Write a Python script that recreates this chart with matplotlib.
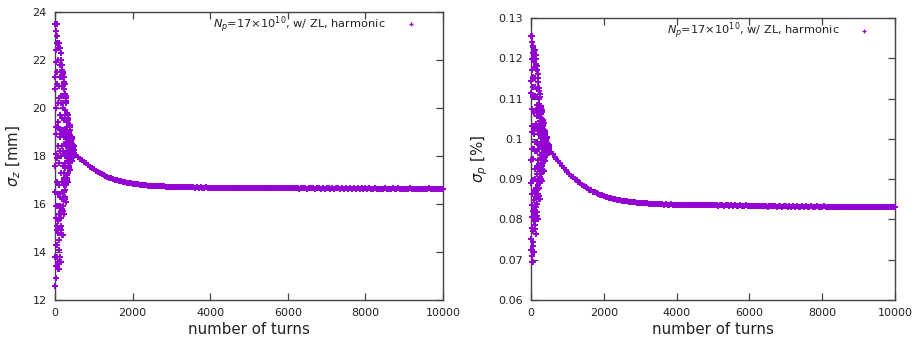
import numpy as np
import matplotlib
matplotlib.use("Agg")
import matplotlib.pyplot as plt

plt.rcParams['font.family'] = ['DejaVu Sans']
plt.rcParams['mathtext.fontset'] = 'dejavusans'

# ---------------- data ----------------
# early turns (strong oscillation), one value every 2 turns: 0..498
osc_turns = np.arange(0, 500, 2)
sigz_osc = [
    23.5, 12.6, 21.3, 16.5, 17.6, 20.8, 13.8, 23.5, 12.9, 21.9, 15.9, 18.1, 20.0, 14.3, 23.2, 13.4, 22.4, 15.4, 18.9, 19.2, 14.9, 23.0, 13.4, 22.7, 15.1,
    23.5, 13.8, 21.5, 16.9, 17.9, 21.0, 14.3, 23.5, 13.6, 22.0, 16.4, 18.4, 20.2, 14.8, 22.7, 13.3, 22.5, 15.9, 19.2, 19.4, 15.3, 22.7, 13.3, 22.7, 15.6,
    22.7, 14.1, 20.9, 16.8, 17.7, 20.4, 14.5, 22.7, 13.8, 21.3, 16.3, 18.2, 19.7, 15.0, 22.5, 13.6, 21.8, 15.9, 18.8, 19.1, 15.4, 22.3, 13.6, 22.0, 15.7,
    22.0, 15.1, 20.5, 17.3, 18.0, 20.2, 15.4, 22.0, 14.9, 20.9, 16.9, 18.4, 19.6, 15.8, 21.8, 14.7, 21.3, 16.5, 18.9, 19.1, 16.2, 21.6, 14.7, 21.5, 16.3,
    21.4, 15.9, 20.2, 17.6, 18.2, 20.0, 16.2, 21.4, 15.7, 20.5, 17.3, 18.5, 19.5, 16.5, 21.3, 15.6, 20.8, 17.1, 18.9, 19.1, 16.8, 21.1, 15.6, 21.0, 16.9,
    20.6, 16.3, 19.7, 17.7, 18.1, 19.5, 16.6, 20.6, 16.2, 19.9, 17.5, 18.4, 19.1, 16.8, 20.5, 16.1, 20.2, 17.2, 18.7, 18.8, 17.0, 20.4, 16.1, 20.3, 17.1,
    19.8, 17.0, 19.2, 17.9, 18.2, 19.1, 17.2, 19.8, 17.0, 19.4, 17.8, 18.4, 18.9, 17.3, 19.7, 16.9, 19.5, 17.6, 18.6, 18.6, 17.5, 19.7, 16.9, 19.6, 17.6,
    19.3, 17.5, 18.9, 18.1, 18.3, 18.8, 17.6, 19.3, 17.5, 19.0, 18.0, 18.4, 18.7, 17.7, 19.3, 17.4, 19.1, 17.9, 18.5, 18.5, 17.8, 19.2, 17.4, 19.2, 17.8,
    18.8, 17.85, 18.6, 18.15, 18.25, 18.55, 17.9, 18.8, 17.8, 18.65, 18.1, 18.3, 18.5, 17.95, 18.8, 17.8, 18.7, 18.05, 18.4, 18.4, 18.0, 18.75, 17.8, 18.7, 18.0,
    18.44, 18.02, 18.35, 18.15, 18.2, 18.33, 18.04, 18.44, 18.01, 18.37, 18.13, 18.22, 18.3, 18.07, 18.43, 18.0, 18.4, 18.11, 18.25, 18.26, 18.09, 18.42, 18.0, 18.41, 18.1,
]
sigp_osc = [
    .1255, .0723, .1143, .0891, .0947, .1115, .0751, .1255, .0709, .1171, .0863, .0975, .1073, .0779, .1241, .0695, .1199, .0835, .1017, .1031, .0807, .1227, .0695, .1213, .0821,
    .1230, .0745, .1128, .0898, .0949, .1103, .0771, .1230, .0733, .1154, .0873, .0975, .1064, .0796, .1217, .0720, .1179, .0847, .1013, .1026, .0822, .1205, .0720, .1192, .0835,
    .1220, .0787, .1129, .0924, .0969, .1106, .0810, .1220, .0775, .1152, .0901, .0992, .1072, .0832, .1209, .0764, .1174, .0878, .1026, .1038, .0855, .1197, .0764, .1186, .0867,
    .1180, .0819, .1104, .0933, .0971, .1085, .0838, .1180, .0809, .1123, .0914, .0990, .1057, .0857, .1171, .0800, .1142, .0895, .1019, .1028, .0876, .1161, .0800, .1152, .0885,
    .1126, .0864, .1071, .0947, .0974, .1057, .0878, .1126, .0857, .1085, .0933, .0988, .1036, .0891, .1119, .0850, .1098, .0919, .1009, .1016, .0905, .1112, .0850, .1105, .0912,
    .1081, .0904, .1044, .0960, .0979, .1035, .0914, .1081, .0900, .1053, .0951, .0988, .1021, .0923, .1076, .0895, .1062, .0941, .1002, .1007, .0932, .1072, .0895, .1067, .0937,
    .1050, .0926, .1024, .0965, .0978, .1018, .0933, .1050, .0923, .1031, .0959, .0985, .1008, .0939, .1047, .0920, .1037, .0952, .0995, .0998, .0946, .1044, .0920, .1040, .0949,
    .1021, .0949, .1006, .0972, .0979, .1002, .0953, .1021, .0947, .1010, .0968, .0983, .0996, .0956, .1019, .0945, .1013, .0964, .0989, .0991, .0960, .1017, .0945, .1015, .0962,
    .1005, .0963, .0996, .0976, .0981, .0994, .0965, .1005, .0962, .0998, .0974, .0983, .0991, .0968, .1004, .0961, .1001, .0972, .0986, .0987, .0970, .1003, .0961, .1002, .0971,
    .0986, .0971, .0983, .0976, .0977, .0982, .0972, .0986, .0970, .0984, .0975, .0978, .0981, .0972, .0986, .0970, .0984, .0974, .0979, .0980, .0973, .0985, .0970, .0985, .0974,
]

# later turns, one value every 50 turns: 500..10000
tail_turns = np.arange(500, 10001, 50)
sigz_tail = [
    18.10, 18.04, 17.96, 17.89, 17.82, 17.76, 17.69, 17.62, 17.56, 17.50,
    17.44, 17.39, 17.34, 17.29, 17.25, 17.21, 17.17, 17.13, 17.10, 17.07,
    17.04, 17.01, 16.99, 16.97, 16.95, 16.93, 16.91, 16.89, 16.88, 16.86,
    16.85, 16.84, 16.83, 16.82, 16.81, 16.80, 16.79, 16.78, 16.77, 16.77,
    16.76, 16.75, 16.75, 16.74, 16.74, 16.73, 16.73, 16.72, 16.72, 16.71,
    16.71, 16.71, 16.70, 16.71, 16.70, 16.70, 16.69, 16.70, 16.69, 16.69, 16.70, 16.69, 16.68, 16.69, 16.68, 16.69, 16.68, 16.68, 16.69, 16.68,
    16.68, 16.67, 16.68, 16.67, 16.68, 16.67, 16.67, 16.68, 16.67, 16.66, 16.67, 16.68, 16.66, 16.67, 16.67, 16.66, 16.67, 16.66, 16.68, 16.66,
    16.67, 16.66, 16.67, 16.66, 16.66, 16.67, 16.66, 16.65, 16.66, 16.67, 16.65, 16.66, 16.66, 16.65, 16.67, 16.66, 16.65, 16.66, 16.65, 16.66,
    16.66, 16.65, 16.66, 16.65, 16.65, 16.66, 16.64, 16.65, 16.66, 16.65, 16.64, 16.65, 16.66, 16.65, 16.64, 16.65, 16.65, 16.64, 16.65, 16.64,
    16.65, 16.66, 16.64, 16.65, 16.64, 16.65, 16.65, 16.64, 16.66, 16.64, 16.65, 16.64, 16.65, 16.64, 16.66, 16.64, 16.65, 16.64, 16.65, 16.64,
    16.65, 16.64, 16.65, 16.63, 16.64, 16.65, 16.64, 16.64, 16.63, 16.64, 16.65, 16.64, 16.63, 16.64, 16.65, 16.63, 16.64, 16.65, 16.64, 16.63,
    16.64, 16.63, 16.64, 16.65, 16.63, 16.64, 16.63, 16.64, 16.64, 16.63, 16.64, 16.63, 16.64, 16.65, 16.63, 16.64, 16.63, 16.64, 16.63, 16.64,
    16.63,
]
sigp_tail = [
    .0975, .0968, .0962, .0956, .0950, .0944, .0939, .0933, .0928, .0923,
    .0918, .0913, .0909, .0905, .0901, .0897, .0893, .0890, .0886, .0883,
    .0880, .0877, .0874, .0872, .0869, .0867, .0865, .0863, .0861, .0860,
    .0858, .0856, .0855, .0853, .0852, .0851, .0850, .0849, .0848, .0847,
    .0846, .0846, .0845, .0845, .0844, .0844, .0843, .0843, .0842, .0842,
    .0841, .0841, .0840, .0840, .0840, .0839, .0839, .0839, .0839, .0838, .0838, .0838, .0838, .0837, .0838, .0837, .0837, .0838, .0837, .0837,
    .0837, .0836, .0837, .0836, .0836, .0837, .0836, .0836, .0835, .0836, .0836, .0835, .0836, .0835, .0836, .0835, .0835, .0836, .0835, .0835,
    .0835, .0836, .0835, .0834, .0835, .0835, .0834, .0835, .0835, .0834, .0835, .0834, .0835, .0834, .0834, .0835, .0834, .0834, .0835, .0834,
    .0834, .0833, .0834, .0833, .0834, .0833, .0833, .0834, .0833, .0833, .0832, .0833, .0834, .0833, .0833, .0832, .0833, .0833, .0832, .0833,
    .0833, .0832, .0833, .0832, .0833, .0832, .0833, .0832, .0832, .0833, .0832, .0833, .0832, .0832, .0833, .0832, .0832, .0833, .0832, .0832,
    .0832, .0833, .0832, .0831, .0832, .0832, .0831, .0832, .0832, .0831, .0832, .0831, .0832, .0832, .0831, .0832, .0831, .0832, .0831, .0832,
    .0832, .0831, .0832, .0831, .0832, .0831, .0832, .0831, .0831, .0832, .0831, .0832, .0831, .0831, .0832, .0831, .0831, .0832, .0831, .0831,
    .0831,
]

x_ticks = [0, 2000, 4000, 6000, 8000, 10000]
z_ticks = [12, 14, 16, 18, 20, 22, 24]
p_ticks = [0.06, 0.07, 0.08, 0.09, 0.1, 0.11, 0.12, 0.13]
p_ticklabels = ["0.06", "0.07", "0.08", "0.09", "0.1", "0.11", "0.12", "0.13"]
legend_label = r"$N_p$=17×10$^{10}$, w/ ZL, harmonic"

# ---------------- style ----------------
purple = "#9400D3"
frame = "#444444"
txt = "#222222"

fig = plt.figure(figsize=(9.21, 3.46), dpi=100)
axL = fig.add_axes([55/921, 46/346, 388/921, 288/346])
axR = fig.add_axes([531/921, 46/346, 364/921, 282/346])

def style(ax):
    for s in ax.spines.values():
        s.set_color(frame)
        s.set_linewidth(1.0)
    ax.tick_params(direction='in', length=5, width=0.9, color=frame,
                   top=True, right=True, labelsize=8, labelcolor=txt, pad=6)
    ax.set_xlim(0, 10000)
    ax.set_xticks(x_ticks)
    ax.set_xlabel("number of turns", fontsize=10.8, color=txt, labelpad=3)

def draw(ax, y_osc, y_tail):
    turns = np.concatenate([osc_turns, tail_turns])
    vals = np.concatenate([y_osc, y_tail])
    ax.plot(turns, vals, linestyle='none', marker='+', markersize=5,
            markeredgewidth=1.4, color=purple, clip_on=False, zorder=3)

style(axL)
draw(axL, sigz_osc, sigz_tail)
axL.set_ylim(12, 24)
axL.set_yticks(z_ticks)
axL.set_ylabel(r"$\sigma_z$ [mm]", fontsize=10.8, color=txt, labelpad=7)

style(axR)
draw(axR, sigp_osc, sigp_tail)
axR.set_ylim(0.06, 0.13)
axR.set_yticks(p_ticks)
axR.set_yticklabels(p_ticklabels)
axR.set_ylabel(r"$\sigma_p$ [%]", fontsize=10.8, color=txt, labelpad=6)

def key(ax, xt, xm, y):
    ax.text(xt, y, legend_label, transform=ax.transAxes, ha='right', va='center',
            fontsize=8.2, color=txt)
    ax.plot([xm], [y], transform=ax.transAxes, marker='+', markersize=3.5,
            markeredgewidth=0.9, color=purple, linestyle='none', clip_on=False)

key(axL, 0.851, 0.918, 0.958)
key(axR, 0.849, 0.915, 0.954)

fig.savefig("out.png", dpi=100)
